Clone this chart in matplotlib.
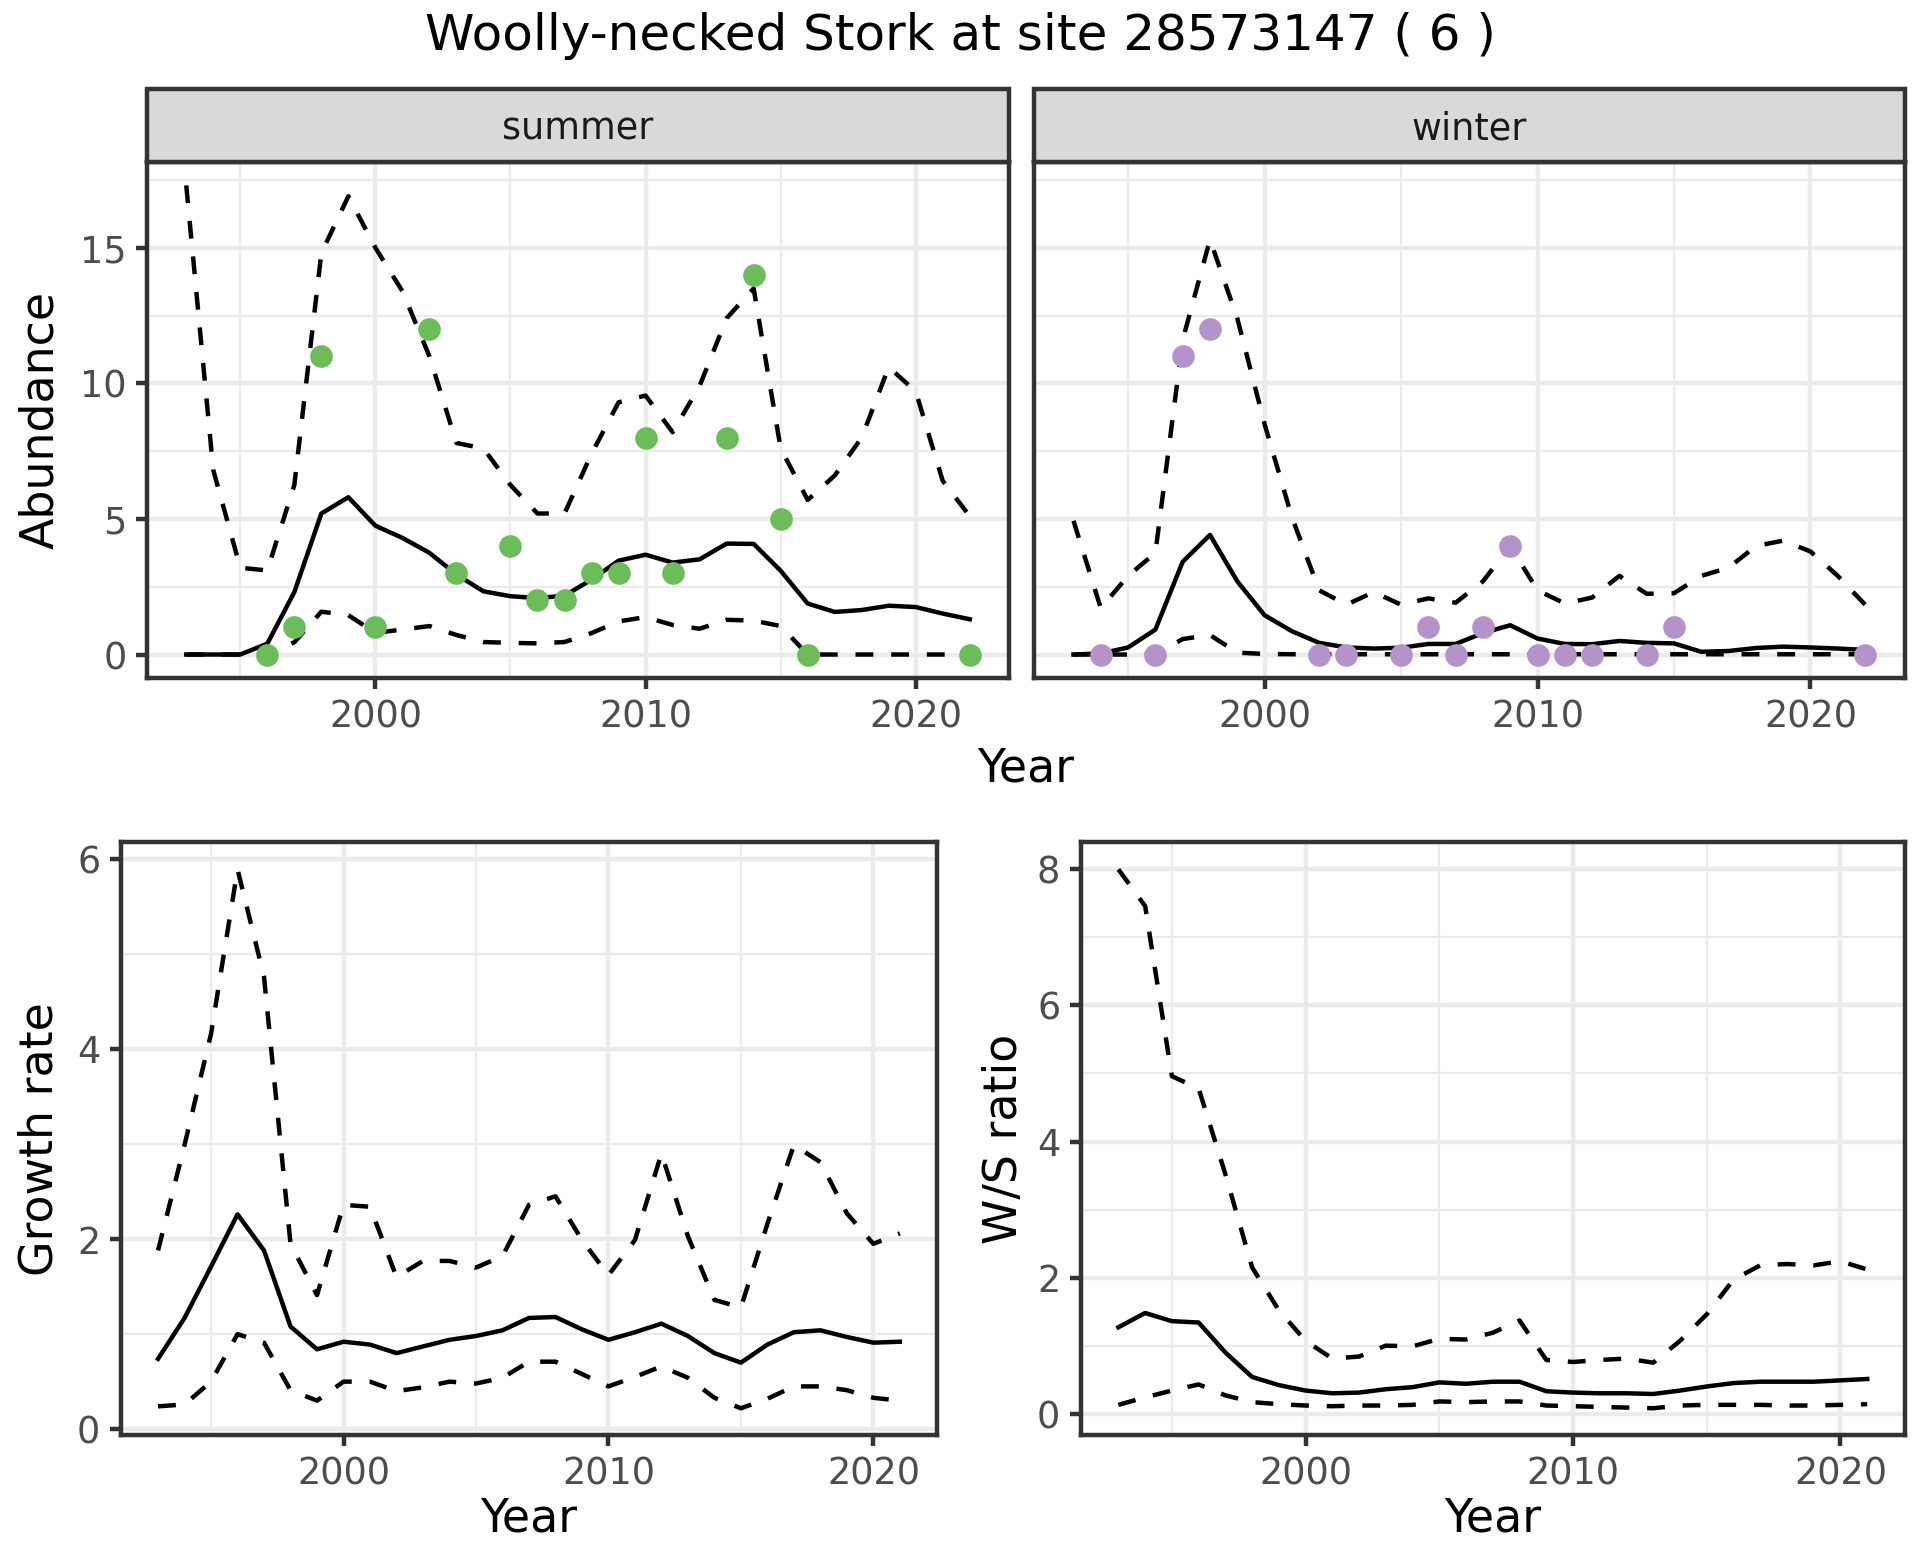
import matplotlib
matplotlib.use("Agg")
import matplotlib.pyplot as plt
from matplotlib.patches import Rectangle
import numpy as np

# ---------------- data ----------------
years_ab = list(range(1993, 2023))
summer_mean = [0, 0, 0, 0.4, 2.3, 5.2, 5.8, 4.75, 4.3, 3.75, 2.95, 2.33, 2.15, 2.08, 2.17,
               2.76, 3.46, 3.68, 3.39, 3.51, 4.09, 4.08, 3.09, 1.88, 1.57, 1.64, 1.8, 1.75, 1.51, 1.3]
summer_upper = [17.3, 6.8, 3.2, 3.1, 6.25, 14.8, 16.9, 15.0, 13.4, 11.0, 7.8, 7.6, 6.25, 5.2, 5.2,
                7.4, 9.3, 9.55, 8.2, 9.9, 12.4, 13.5, 7.6, 5.7, 6.6, 8.0, 10.6, 9.7, 6.4, 5.1]
summer_lower = [0, 0, 0, 0.05, 0.45, 1.58, 1.45, 0.8, 0.92, 1.05, 0.72, 0.46, 0.43, 0.41, 0.46,
                0.79, 1.22, 1.38, 1.09, 0.95, 1.28, 1.25, 1.05, 0, 0, 0, 0, 0, 0, 0]
summer_obs_years = [1996, 1997, 1998, 2000, 2002, 2003, 2005, 2006, 2007, 2008, 2009, 2010,
                    2011, 2013, 2014, 2015, 2016, 2022]
summer_obs = [0, 1, 11, 1, 12, 3, 4, 2, 2, 3, 3, 8, 3, 8, 14, 5, 0, 0]

winter_mean = [0, 0.04, 0.26, 0.92, 3.42, 4.41, 2.7, 1.45, 0.86, 0.43, 0.26, 0.22, 0.25, 0.39, 0.39,
               0.79, 1.08, 0.59, 0.39, 0.38, 0.5, 0.43, 0.41, 0.1, 0.13, 0.24, 0.29, 0.26, 0.22, 0.17]
winter_upper = [4.93, 1.71, 2.9, 3.75, 11.6, 15.3, 12.4, 8.5, 5.07, 2.37, 1.84, 2.3, 1.84, 2.07, 1.91,
                2.7, 4.0, 2.37, 1.88, 2.1, 2.9, 2.24, 2.26, 2.9, 3.2, 4.0, 4.2, 3.8, 2.9, 1.84]
winter_lower = [0, 0, 0, 0, 0.57, 0.72, 0.07, 0.02, 0.01, 0.01, 0.01, 0.01, 0.01, 0.01, 0.01,
                0.01, 0.01, 0.01, 0.01, 0.01, 0.01, 0.01, 0.01, 0.01, 0.01, 0.01, 0.01, 0.01, 0.01, 0.01]
winter_obs_years = [1994, 1996, 1997, 1998, 2002, 2003, 2005, 2006, 2007, 2008, 2009, 2010,
                    2011, 2012, 2014, 2015, 2022]
winter_obs = [0, 0, 11, 12, 0, 0, 0, 1, 0, 1, 4, 0, 0, 0, 0, 1, 0]

years_gr = list(range(1993, 2022))
growth_mean = [0.74, 1.17, 1.71, 2.26, 1.88, 1.08, 0.84, 0.92, 0.89, 0.80, 0.87, 0.94, 0.98, 1.04,
               1.17, 1.18, 1.05, 0.94, 1.02, 1.11, 0.98, 0.80, 0.70, 0.89, 1.02, 1.04, 0.97, 0.91, 0.92]
growth_upper = [1.88, 2.99, 4.16, 5.89, 4.76, 1.95, 1.41, 2.36, 2.34, 1.60, 1.77, 1.77, 1.70, 1.82,
                2.36, 2.45, 1.99, 1.62, 1.99, 2.90, 2.03, 1.36, 1.28, 2.16, 2.99, 2.81, 2.27, 1.95, 2.06]
growth_lower = [0.24, 0.26, 0.50, 1.00, 0.91, 0.41, 0.30, 0.50, 0.50, 0.40, 0.44, 0.50, 0.48, 0.54,
                0.71, 0.71, 0.58, 0.45, 0.55, 0.66, 0.54, 0.33, 0.22, 0.32, 0.45, 0.45, 0.41, 0.33, 0.30]

ws_mean = [1.27, 1.48, 1.36, 1.34, 0.90, 0.54, 0.42, 0.34, 0.30, 0.31, 0.36, 0.39, 0.46, 0.44,
           0.47, 0.47, 0.33, 0.31, 0.30, 0.30, 0.29, 0.34, 0.40, 0.45, 0.47, 0.47, 0.47, 0.49, 0.51]
ws_upper = [8.0, 7.46, 4.96, 4.78, 3.52, 2.15, 1.52, 1.07, 0.81, 0.84, 1.00, 0.99, 1.10, 1.09,
            1.19, 1.37, 0.79, 0.76, 0.79, 0.81, 0.75, 1.07, 1.46, 1.97, 2.18, 2.20, 2.18, 2.24, 2.12]
ws_lower = [0.13, 0.24, 0.34, 0.43, 0.27, 0.17, 0.14, 0.12, 0.11, 0.12, 0.12, 0.13, 0.18, 0.17,
            0.18, 0.18, 0.12, 0.11, 0.10, 0.09, 0.08, 0.12, 0.13, 0.13, 0.13, 0.12, 0.12, 0.13, 0.14]

title = "Woolly-necked Stork at site 28573147 ( 6 )"
facet_labels = ["summer", "winter"]
green = "#6cbd5a"
purple = "#b494c8"

# ---------------- style ----------------
plt.rcParams["font.family"] = ["DejaVu Sans"]
DPI = 240
S = 1.25
LW = 1.07 * S
FS_TICK = 8.8 * S
FS_AXT = 11 * S
FS_TITLE = 15
fig = plt.figure(figsize=(1920 / DPI, 1560 / DPI), dpi=DPI)
fig.patch.set_facecolor("white")

GRID = "#EBEBEB"
BORDER = "#333333"
TICKC = "#4D4D4D"


def expand(vals, frac=0.05):
    lo, hi = min(vals), max(vals)
    d = (hi - lo) * frac
    return lo - d, hi + d


def style_ax(ax, xlim, ylim, xmajor, ymajor, xminor, yminor, show_y=True):
    ax.set_xlim(*xlim)
    ax.set_ylim(*ylim)
    ax.set_xticks(xmajor)
    ax.set_yticks(ymajor)
    ax.set_xticks(xminor, minor=True)
    ax.set_yticks(yminor, minor=True)
    ax.grid(True, which="major", color=GRID, lw=LW, zorder=0)
    ax.grid(True, which="minor", color=GRID, lw=LW * 0.5, zorder=0)
    ax.set_axisbelow(True)
    for s in ax.spines.values():
        s.set_color(BORDER)
        s.set_linewidth(LW)
        s.set_zorder(5)
    ax.tick_params(which="major", length=2.75 * S, width=LW, color=BORDER, labelsize=FS_TICK,
                   labelcolor=TICKC, pad=2.2 * S)
    ax.tick_params(which="minor", length=0)
    ax.set_xticklabels([str(v) for v in xmajor])
    if show_y:
        ax.set_yticklabels([("%g" % v) for v in ymajor])
    else:
        ax.tick_params(axis="y", which="both", left=False, labelleft=False)


def draw_band(ax, x, mean, upper, lower):
    ax.plot(x, upper, color="black", lw=LW, ls=(0, (4, 4)), zorder=3)
    ax.plot(x, lower, color="black", lw=LW, ls=(0, (4, 4)), zorder=3)
    ax.plot(x, mean, color="black", lw=LW, zorder=3)


# ---------------- top facets ----------------
top_b, top_t = 1 - 0.4346, 1 - 0.1038
strip_t = 1 - 0.057
xlim_top = expand(years_ab)
ylim_top = expand(summer_upper + summer_lower + winter_upper + winter_lower + summer_obs + winter_obs)

panels = [
    (0.0766, 0.5255, summer_mean, summer_upper, summer_lower, summer_obs_years, summer_obs, green, True),
    (0.5385, 0.992, winter_mean, winter_upper, winter_lower, winter_obs_years, winter_obs, purple, False),
]
for i, (l, r, m, u, lo, oy, ov, col, showy) in enumerate(panels):
    ax = fig.add_axes([l, top_b, r - l, top_t - top_b])
    draw_band(ax, years_ab, m, u, lo)
    ax.plot(oy, ov, "o", color=col, ms=6.8, mew=0, zorder=4)
    style_ax(ax, xlim_top, ylim_top, [2000, 2010, 2020], [0, 5, 10, 15],
             [1995, 2005, 2015], [2.5, 7.5, 12.5, 17.5], show_y=showy)
    # strip
    fig.patches.append(Rectangle((l, top_t), r - l, strip_t - top_t, transform=fig.transFigure,
                                 facecolor="#D9D9D9", edgecolor=BORDER, lw=LW, zorder=1))
    fig.text((l + r) / 2, (top_t + strip_t) / 2 - 0.002, facet_labels[i], ha="center", va="center",
             fontsize=FS_TICK, color="#1A1A1A")

fig.text(0.021, (top_b + top_t) / 2, "Abundance", ha="center", va="center", rotation=90,
         fontsize=FS_AXT)
fig.text((0.0766 + 0.992) / 2, 0.507, "Year", ha="center", va="center", fontsize=FS_AXT)

# ---------------- bottom panels ----------------
bot_b, bot_t = 0.080, 0.460
xlim_bot = expand(years_gr)

l3, r3 = 0.063, 0.488
ax3 = fig.add_axes([l3, bot_b, r3 - l3, bot_t - bot_b])
draw_band(ax3, years_gr, growth_mean, growth_upper, growth_lower)
style_ax(ax3, xlim_bot, expand(growth_upper + growth_lower), [2000, 2010, 2020], [0, 2, 4, 6],
         [1995, 2005, 2015], [1, 3, 5])
fig.text((l3 + r3) / 2, 0.026, "Year", ha="center", va="center", fontsize=FS_AXT)
fig.text(0.021, (bot_b + bot_t) / 2, "Growth rate", ha="center", va="center", rotation=90,
         fontsize=FS_AXT)

l4, r4 = 0.563, 0.992
ax4 = fig.add_axes([l4, bot_b, r4 - l4, bot_t - bot_b])
draw_band(ax4, years_gr, ws_mean, ws_upper, ws_lower)
style_ax(ax4, xlim_bot, expand(ws_upper + ws_lower), [2000, 2010, 2020], [0, 2, 4, 6, 8],
         [1995, 2005, 2015], [1, 3, 5, 7])
fig.text((l4 + r4) / 2, 0.026, "Year", ha="center", va="center", fontsize=FS_AXT)
fig.text(0.523, (bot_b + bot_t) / 2, "W/S ratio", ha="center", va="center", rotation=90,
         fontsize=FS_AXT)

fig.text(0.5, 0.977, title, ha="center", va="center", fontsize=FS_TITLE)

fig.savefig("out.png", dpi=DPI, facecolor="white")
